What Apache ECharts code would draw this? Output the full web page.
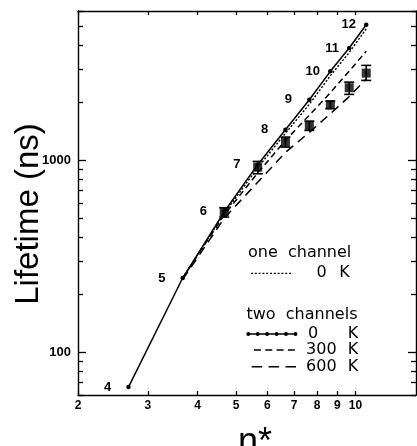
<!DOCTYPE html>
<html style="height:100%;">
<head>
  <meta charset="utf-8">
  <script src="https://cdn.jsdelivr.net/npm/echarts/dist/echarts.min.js"></script>
  <style>
    html, body { margin: 0; padding: 0; background: #fff; }
    #chart { width: 417px; height: 446px; }
  </style>
</head>
<body>
  <div id="chart"></div>
  <script>
    // principal quantum number n and effective n*
    var nLevels = [4, 5, 6, 7, 8, 9, 10, 11, 12];
    var nStar = [2.68, 3.67, 4.67, 5.67, 6.66, 7.65, 8.64, 9.64, 10.64];

    // two channels, 0 K (solid, with dots) - lifetime in ns
    var twoCh0K = [66, 244, 540, 950, 1445, 2070, 2910, 3850, 5090];
    // the other calculated curves start at n = 5
    var curveN = [5, 6, 7, 8, 9, 10, 11, 12];
    var oneCh0K = [244, 530, 915, 1385, 1960, 2760, 3650, 4840];
    var twoCh300K = [244, 520, 860, 1270, 1720, 2250, 2920, 3700];
    var twoCh600K = [240, 500, 770, 1100, 1400, 1750, 2150, 2650];

    // measured lifetimes with error bars
    var expN = [6, 7, 8, 9, 10, 11, 12];
    var expLife = [542, 923, 1246, 1521, 1950, 2391, 2849];
    var expLow = [507, 852, 1173, 1433, 1859, 2207, 2610];
    var expHigh = [567, 988, 1323, 1602, 2037, 2557, 3125];

    // axis ticks
    var xTickVals = [2, 3, 4, 5, 6, 7, 8, 9, 10];
    var yMajor = [100, 1000];
    var yMinor = [60, 70, 80, 90, 200, 300, 400, 500, 600, 700, 800, 900, 2000, 3000, 4000, 5000, 6000];

    var lg = Math.log10;
    var X_MIN = lg(2), X_MAX = lg(14.2);
    var Y_MIN = lg(60), Y_MAX = lg(6000);
    var numFont = 'Liberation Sans';
    var txtFont = 'DejaVu Sans';

    function starOf(n) { return nStar[nLevels.indexOf(n)]; }
    function curve(vals) {
      return curveN.map(function (n, i) { return [lg(starOf(n)), lg(vals[i])]; });
    }

    var chart = echarts.init(document.getElementById('chart'), null, { renderer: 'canvas' });

    function xAxisDef(pos, labels) {
      return {
        type: 'value', position: pos, min: X_MIN, max: X_MAX,
        axisLine: { show: true, onZero: false, lineStyle: { color: '#000', width: 1.4 } },
        axisTick: { show: true, inside: true, length: 4, customValues: xTickVals.map(lg),
          lineStyle: { color: '#000', width: 1.3 } },
        axisLabel: { show: labels, customValues: xTickVals.map(lg), margin: 5,
          color: '#000', fontFamily: numFont, fontWeight: 'bold', fontSize: 12,
          formatter: function (v) { return Math.round(Math.pow(10, v)); } },
        splitLine: { show: false }
      };
    }
    function yAxisDef(pos, vals, len, labels, line) {
      return {
        type: 'value', position: pos, min: Y_MIN, max: Y_MAX,
        axisLine: { show: line, onZero: false, lineStyle: { color: '#000', width: 1.4 } },
        axisTick: { show: true, inside: true, length: len, customValues: vals.map(lg),
          lineStyle: { color: '#000', width: 1.3 } },
        axisLabel: { show: labels, customValues: vals.map(lg), margin: 7,
          color: '#000', fontFamily: numFont, fontWeight: 'bold', fontSize: 13,
          formatter: function (v) { return Math.round(Math.pow(10, v)); } },
        splitLine: { show: false }
      };
    }

    var option = {
      animation: false,
      backgroundColor: '#fff',
      grid: { left: 78, right: 1, top: 11, bottom: 51, containLabel: false, outerBoundsMode: 'none' },
      xAxis: [xAxisDef('bottom', true), xAxisDef('top', false)],
      yAxis: [
        yAxisDef('left', yMajor, 8, true, true),
        yAxisDef('left', yMinor, 5, false, false),
        yAxisDef('right', yMajor, 8, false, true),
        yAxisDef('right', yMinor, 5, false, false)
      ],
      series: [
        {
          name: 'two channels 0 K', type: 'line',
          data: nStar.map(function (x, i) {
            return { value: [lg(x), lg(twoCh0K[i])], label: { distance: nLevels[i] >= 10 ? 8 : 15 } };
          }),
          symbol: 'circle', symbolSize: 4.5,
          itemStyle: { color: '#000' },
          lineStyle: { color: '#000', width: 1.5 },
          label: { show: true, position: 'left', color: '#000', fontFamily: numFont,
            fontWeight: 'bold', fontSize: 13,
            formatter: function (p) { return nLevels[p.dataIndex]; } },
          z: 5
        },
        {
          name: 'one channel 0 K', type: 'line', data: curve(oneCh0K), showSymbol: false,
          lineStyle: { color: '#000', width: 1.4, type: [2, 1.8] }
        },
        {
          name: 'two channels 300 K', type: 'line', data: curve(twoCh300K), showSymbol: false,
          lineStyle: { color: '#000', width: 1.5, type: [6, 4] }
        },
        {
          name: 'two channels 600 K', type: 'line', data: curve(twoCh600K), showSymbol: false,
          lineStyle: { color: '#000', width: 1.5, type: [9, 6] }
        },
        {
          name: 'experiment', type: 'scatter',
          data: expN.map(function (n, i) { return [lg(starOf(n)), lg(expLife[i])]; }),
          symbol: 'rect', symbolSize: 9, itemStyle: { color: '#000' }, z: 6
        },
        {
          name: 'error', type: 'custom',
          data: expN.map(function (n, i) { return [lg(starOf(n)), lg(expLow[i]), lg(expHigh[i])]; }),
          encode: { x: 0, y: [1, 2] },
          renderItem: function (params, api) {
            var lo = api.coord([api.value(0), api.value(1)]);
            var hi = api.coord([api.value(0), api.value(2)]);
            var w = 5;
            var st = { stroke: '#000', lineWidth: 1.6 };
            return {
              type: 'group', children: [
                { type: 'line', shape: { x1: lo[0], y1: lo[1], x2: hi[0], y2: hi[1] }, style: st },
                { type: 'line', shape: { x1: lo[0] - w, y1: lo[1], x2: lo[0] + w, y2: lo[1] }, style: st },
                { type: 'line', shape: { x1: hi[0] - w, y1: hi[1], x2: hi[0] + w, y2: hi[1] }, style: st }
              ]
            };
          },
          z: 6
        }
      ],
      graphic: [
        // axis titles
        { type: 'text', x: 28.5, y: 214, rotation: Math.PI / 2,
          style: { text: 'Lifetime (ns)', font: '33px "Liberation Sans"', fill: '#000',
            textAlign: 'center', textVerticalAlign: 'middle', align: 'center', verticalAlign: 'middle' } },
        { type: 'text', x: 255, y: 443,
          style: { text: 'n*', font: '36px "Liberation Sans"', fill: '#000',
            textAlign: 'center', textVerticalAlign: 'middle', align: 'center', verticalAlign: 'middle' } },

        // legend: one channel
        { type: 'text', x: 248, y: 253,
          style: { text: 'one  channel', font: '16px "' + txtFont + '"', fill: '#000',
            textAlign: 'left', textVerticalAlign: 'middle', align: 'left', verticalAlign: 'middle' } },
        { type: 'line', shape: { x1: 251, y1: 273.3, x2: 293, y2: 273.3 },
          style: { stroke: '#000', lineWidth: 1.3, lineDash: [2, 1.8] } },
        { type: 'text', x: 321.7, y: 273,
          style: { text: '0', font: '16px "' + txtFont + '"', fill: '#000',
            textAlign: 'center', textVerticalAlign: 'middle', align: 'center', verticalAlign: 'middle' } },
        { type: 'text', x: 344.5, y: 273,
          style: { text: 'K', font: '16px "' + txtFont + '"', fill: '#000',
            textAlign: 'center', textVerticalAlign: 'middle', align: 'center', verticalAlign: 'middle' } },

        // legend: two channels
        { type: 'text', x: 246.5, y: 314.5,
          style: { text: 'two  channels', font: '16px "' + txtFont + '"', fill: '#000',
            textAlign: 'left', textVerticalAlign: 'middle', align: 'left', verticalAlign: 'middle' } },
        { type: 'line', shape: { x1: 248.3, y1: 334, x2: 295.5, y2: 334 },
          style: { stroke: '#000', lineWidth: 1.5 } },
        { type: 'circle', shape: { cx: 248.3, cy: 334, r: 2 }, style: { fill: '#000' } },
        { type: 'circle', shape: { cx: 257.7, cy: 334, r: 2 }, style: { fill: '#000' } },
        { type: 'circle', shape: { cx: 267.1, cy: 334, r: 2 }, style: { fill: '#000' } },
        { type: 'circle', shape: { cx: 276.6, cy: 334, r: 2 }, style: { fill: '#000' } },
        { type: 'circle', shape: { cx: 286.0, cy: 334, r: 2 }, style: { fill: '#000' } },
        { type: 'circle', shape: { cx: 295.5, cy: 334, r: 2 }, style: { fill: '#000' } },
        { type: 'text', x: 313, y: 334,
          style: { text: '0', font: '16px "' + txtFont + '"', fill: '#000',
            textAlign: 'center', textVerticalAlign: 'middle', align: 'center', verticalAlign: 'middle' } },
        { type: 'text', x: 353, y: 334,
          style: { text: 'K', font: '16px "' + txtFont + '"', fill: '#000',
            textAlign: 'center', textVerticalAlign: 'middle', align: 'center', verticalAlign: 'middle' } },

        { type: 'line', shape: { x1: 254, y1: 350, x2: 296, y2: 350 },
          style: { stroke: '#000', lineWidth: 1.4, lineDash: [7, 4.3] } },
        { type: 'text', x: 321.3, y: 350,
          style: { text: '300', font: '16px "' + txtFont + '"', fill: '#000',
            textAlign: 'center', textVerticalAlign: 'middle', align: 'center', verticalAlign: 'middle' } },
        { type: 'text', x: 353, y: 350,
          style: { text: 'K', font: '16px "' + txtFont + '"', fill: '#000',
            textAlign: 'center', textVerticalAlign: 'middle', align: 'center', verticalAlign: 'middle' } },

        { type: 'line', shape: { x1: 251.7, y1: 366.7, x2: 296, y2: 366.7 },
          style: { stroke: '#000', lineWidth: 1.4, lineDash: [10.5, 6.4] } },
        { type: 'text', x: 321.3, y: 366.7,
          style: { text: '600', font: '16px "' + txtFont + '"', fill: '#000',
            textAlign: 'center', textVerticalAlign: 'middle', align: 'center', verticalAlign: 'middle' } },
        { type: 'text', x: 353, y: 366.7,
          style: { text: 'K', font: '16px "' + txtFont + '"', fill: '#000',
            textAlign: 'center', textVerticalAlign: 'middle', align: 'center', verticalAlign: 'middle' } }
      ]
    };

    chart.setOption(option);
  </script>
</body>
</html>
